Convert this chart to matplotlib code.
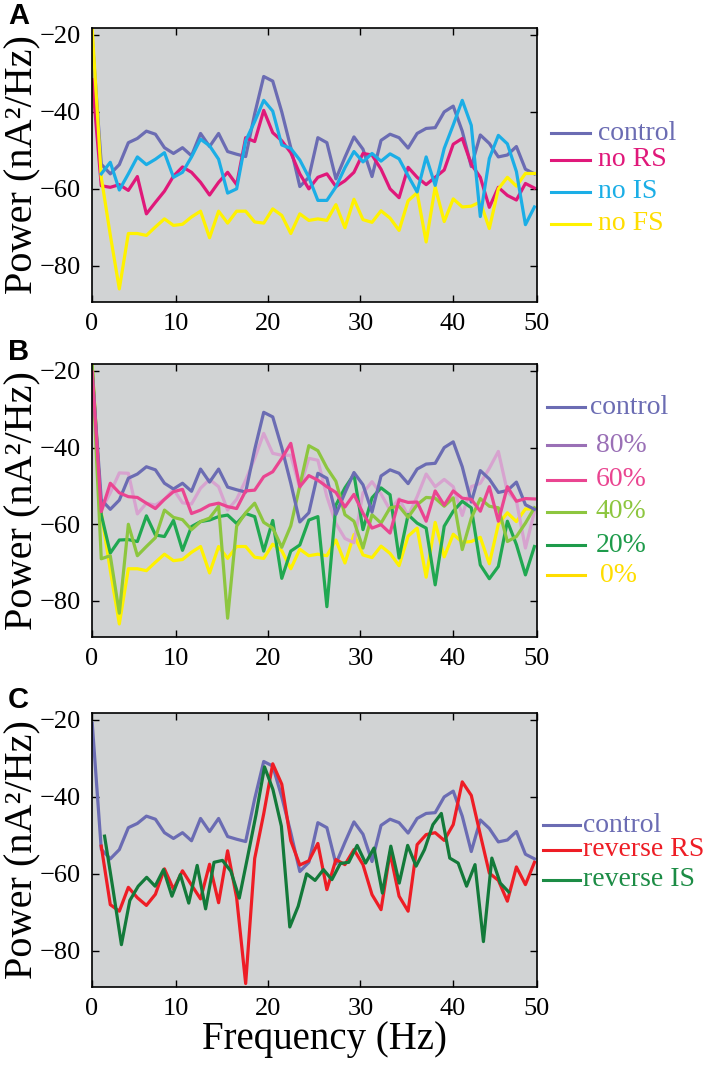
import numpy as np
import matplotlib
matplotlib.use("Agg")
import matplotlib.pyplot as plt
from matplotlib.lines import Line2D

# ---------------------------------------------------------------
# DATI
# griglia di frequenza: 50 bin da 1000/1024 Hz
freqs = np.arange(1, 51) * 1000.0 / 1024.0
# "reverse IS" ha una griglia propria (49 punti, da ~2.3 a ~46 Hz)
freqs_rev_is = np.linspace(2.31, 46.04, 49)

control = [-20.9, -53.6, -56.1, -53.7, -48.0, -46.9, -45.0, -45.8, -49.3, -50.8,
           -49.3, -51.4, -45.6, -49.0, -45.6, -50.3, -51.0, -51.6, -40.5, -30.8,
           -32.0, -40.0, -49.3, -59.4, -57.0, -46.7, -48.0, -57.4, -51.8, -46.5,
           -49.7, -56.8, -47.4, -45.8, -46.7, -49.4, -45.6, -44.3, -44.1, -40.0,
           -38.5, -45.0, -54.2, -46.0, -48.2, -51.7, -51.2, -49.0, -54.9, -56.1]

no_rs = [-31.6, -59.2, -59.6, -58.9, -60.4, -56.8, -66.5, -63.5, -60.6, -56.7,
         -54.3, -55.7, -58.3, -61.6, -58.3, -55.7, -58.9, -46.7, -47.7, -39.6,
         -45.4, -47.5, -50.6, -56.1, -60.0, -57.0, -56.1, -59.4, -57.9, -55.7,
         -50.8, -51.2, -54.9, -60.0, -62.3, -54.4, -57.0, -58.9, -57.0, -55.1,
         -48.4, -46.9, -53.6, -57.0, -64.8, -59.6, -61.7, -62.9, -58.6, -59.8]

no_is = [np.nan, -56.1, -53.1, -60.3, -56.1, -51.7, -53.7, -52.3, -50.6, -57.0,
         -55.7, -51.7, -47.1, -48.8, -52.3, -61.1, -60.0, -47.5, -42.5, -37.0,
         -39.8, -48.6, -49.5, -52.5, -57.0, -63.0, -63.0, -59.5, -54.5, -50.3,
         -53.0, -50.8, -52.8, -50.9, -52.2, -56.6, -60.8, -51.7, -59.1, -49.5,
         -43.4, -37.0, -43.5, -67.2, -52.1, -46.1, -48.3, -55.5, -69.3, -64.7]

# "no FS" del pannello A e "0%" del pannello B sono la stessa curva
no_fs = [-18.5, -57.0, -72.0, -86.0, -71.6, -71.6, -72.1, -69.9, -67.8, -69.5,
         -69.2, -67.3, -65.8, -72.7, -65.8, -68.9, -65.8, -65.8, -68.6, -68.9,
         -65.2, -66.9, -71.6, -66.5, -68.2, -67.8, -68.2, -64.1, -70.1, -62.7,
         -68.0, -68.7, -65.7, -67.6, -70.8, -63.1, -61.0, -73.8, -59.5, -68.5,
         -62.6, -64.7, -64.5, -63.4, -70.3, -60.0, -57.0, -59.3, -56.0, -56.0]

p80 = [-21.0, -56.3, -51.8, -46.6, -46.7, -57.3, -54.5, -55.0, -53.5, -50.9,
       -54.4, -54.7, -50.6, -48.3, -50.2, -56.3, -53.5, -48.5, -42.8, -36.3,
       -41.5, -42.0, -42.0, -50.6, -42.8, -43.3, -52.8, -59.8, -63.7, -64.8,
       -51.8, -48.9, -52.1, -56.3, -53.3, -57.8, -52.8, -46.9, -50.2, -48.3,
       -50.2, -57.7, -50.2, -49.3, -45.4, -41.0, -51.5, -53.9, -66.2, -56.7]

p60 = [-20.3, -56.7, -49.3, -51.8, -52.8, -53.0, -54.5, -55.9, -53.5, -51.5,
       -50.9, -57.2, -56.3, -55.0, -54.5, -55.4, -55.9, -51.3, -51.1, -47.6,
       -46.3, -42.8, -38.9, -50.2, -47.3, -48.5, -50.2, -51.7, -55.5, -52.2,
       -57.1, -61.0, -60.1, -62.3, -53.6, -54.3, -54.2, -59.2, -51.3, -55.0,
       -51.3, -53.2, -53.5, -56.6, -50.2, -59.2, -50.2, -54.0, -53.3, -53.4]

p40 = [-19.0, -69.0, -68.2, -83.2, -60.0, -68.2, -65.8, -63.5, -56.3, -58.2,
       -58.8, -61.4, -59.3, -58.4, -55.3, -84.5, -60.5, -57.0, -54.5, -59.5,
       -61.0, -66.0, -60.4, -50.0, -39.5, -40.8, -45.3, -48.8, -57.5, -59.2,
       -66.2, -57.5, -59.7, -55.7, -55.3, -58.2, -54.9, -53.0, -53.2, -55.3,
       -53.1, -66.6, -58.4, -53.3, -55.3, -55.7, -64.5, -63.2, -59.7, -55.7]

p20 = [-19.0, -57.5, -67.5, -64.1, -64.0, -64.5, -57.8, -62.8, -63.2, -59.0,
       -66.8, -60.6, -59.3, -58.9, -58.0, -57.6, -59.8, -57.2, -58.0, -67.0,
       -59.0, -74.1, -67.0, -65.4, -58.9, -58.0, -81.5, -55.0, -50.5, -47.0,
       -61.4, -53.1, -50.5, -52.3, -68.8, -57.5, -59.7, -61.0, -75.8, -60.5,
       -56.6, -54.0, -55.7, -70.6, -74.2, -71.0, -59.2, -65.3, -73.2, -65.8]

rev_rs = [np.nan, -52.8, -68.0, -69.7, -63.5, -66.2, -68.2, -65.3, -58.7, -64.0,
          -59.2, -62.9, -66.5, -57.5, -67.5, -54.0, -66.2, -88.5, -56.0, -44.4,
          -31.4, -36.7, -51.4, -57.7, -56.6, -52.1, -64.1, -56.3, -57.6, -53.7,
          -57.6, -65.4, -69.3, -54.5, -65.8, -69.7, -52.4, -49.8, -49.3, -51.3,
          -47.2, -36.1, -39.6, -49.8, -59.8, -61.7, -67.1, -58.2, -62.8, -57.0]

rev_is = [-50.2, -64.0, -78.4, -66.9, -63.2, -60.9, -63.2, -58.9, -65.8, -60.2,
          -67.6, -57.8, -69.1, -57.0, -56.5, -59.3, -66.3, -55.5, -44.5, -32.2,
          -38.1, -47.6, -73.8, -68.4, -60.0, -61.7, -58.9, -61.5, -57.3, -57.0,
          -52.6, -57.2, -53.3, -65.0, -52.8, -62.4, -52.6, -58.0, -53.7, -47.2,
          -44.3, -55.9, -57.2, -63.2, -57.6, -77.6, -55.9, -62.4, -64.7]

y_ticks = [-80, -60, -40, -20]
x_tick_labels = ["0", "10", "20", "30", "40", "50"]
# ---------------------------------------------------------------

W, H = 709, 1066
SERIF = "Liberation Serif"

C_CONTROL = "#6B6CB3"
C_RS = "#E0187A"
C_IS = "#1BAEE6"
C_FS = "#FFF200"
C_80 = "#D7A3CF"
C_60 = "#EA4591"
C_40 = "#8DC63F"
C_20 = "#20A851"
C_REV_RS = "#EE1D25"
C_REV_IS = "#137A3A"

fig = plt.figure(figsize=(W / 100, H / 100), dpi=100)


def make_axes(top_px, bottom_px):
    left, right = 92, 536.5
    ax = fig.add_axes([left / W, 1 - bottom_px / H, (right - left) / W, (bottom_px - top_px) / H])
    ax.set_facecolor("#D1D3D4")
    ax.set_xlim(0.95, 49.05)
    ax.set_ylim(-89.4, -18.2)
    ax.set_xticks([0.95, 10, 20, 30, 40, 49.05])
    ax.set_xticklabels(x_tick_labels)
    ax.set_yticks(y_ticks)
    ax.set_yticklabels(["\u2212%d" % abs(v) for v in y_ticks])
    ax.tick_params(direction="in", length=5, width=1, top=True, right=True,
                   labelsize=19, pad=8)
    for lab in ax.get_xticklabels() + ax.get_yticklabels():
        lab.set_family(SERIF)
    for sp in ax.spines.values():
        sp.set_linewidth(1.2)
    # etichetta asse y
    fig.text(23 / W, 1 - (top_px + bottom_px) / 2 / H, "Power (nA\u00b2/Hz)",
             rotation=90, va="center", ha="center", fontsize=29, family=SERIF)
    return ax


def add_legend(entries, ys, x0, x1, xt):
    """entries: lista di (testo, colore linea, colore testo, scostamento x testo)"""
    for (name, lc, tc, dx), y in zip(entries, ys):
        yf = 1 - y / H
        fig.add_artist(Line2D([x0 / W, x1 / W], [yf, yf], color=lc, lw=2.2,
                              transform=fig.transFigure))
        fig.text((xt + dx) / W, yf, name, color=tc, fontsize=20, family=SERIF,
                 va="center", ha="left")


lw = 2.3

# Pannello A
axA = make_axes(28, 302)
axA.plot(freqs, control, color=C_CONTROL, lw=lw)
axA.plot(freqs, no_rs, color=C_RS, lw=lw)
axA.plot(freqs, no_fs, color=C_FS, lw=lw)
axA.plot(freqs, no_is, color=C_IS, lw=lw)
add_legend([("control", C_CONTROL, C_CONTROL, 0),
            ("no RS", C_RS, C_RS, 0),
            ("no IS", C_IS, C_IS, 0),
            ("no FS", C_FS, "#FFDD00", 0)],
           [133, 160, 192, 224], 551, 590, 598)

# Pannello B
axB = make_axes(364, 637)
axB.plot(freqs, no_fs, color=C_FS, lw=lw)
axB.plot(freqs, p80, color=C_80, lw=lw)
axB.plot(freqs, p20, color=C_20, lw=lw)
axB.plot(freqs, p40, color=C_40, lw=lw)
axB.plot(freqs, control, color=C_CONTROL, lw=lw)
axB.plot(freqs, p60, color=C_60, lw=lw)
add_legend([("control", C_CONTROL, C_CONTROL, 0),
            ("80%", "#9A70B6", "#9A70B6", 6),
            ("60%", C_60, C_60, 6),
            ("40%", C_40, C_40, 6),
            ("20%", "#1E9B4B", "#1E9B4B", 6),
            ("0%", "#FFDD00", "#FFDD00", 10)],
           [407, 445, 480, 512, 545, 575], 547, 585, 590)

# Pannello C
axC = make_axes(713, 987)
axC.plot(freqs, control, color=C_CONTROL, lw=lw)
axC.plot(freqs, rev_rs, color=C_REV_RS, lw=lw)
axC.plot(freqs_rev_is, rev_is, color=C_REV_IS, lw=lw)
add_legend([("control", C_CONTROL, C_CONTROL, 0),
            ("reverse RS", C_REV_RS, C_REV_RS, 0),
            ("reverse IS", "#1C8C45", "#1C8C45", 0)],
           [825, 850, 880], 543, 580, 583)

fig.text(325 / W, 1 - 1040 / H, "Frequency (Hz)", fontsize=28, family=SERIF,
         ha="center", va="center")

# Lettere dei pannelli
for letter, y in [("A", 16), ("B", 352), ("C", 700)]:
    fig.text(8 / W, 1 - y / H, letter, fontsize=21, fontweight="bold",
             family="Liberation Sans", va="center", ha="left")

fig.savefig("out.png", dpi=100)
plt.close(fig)
